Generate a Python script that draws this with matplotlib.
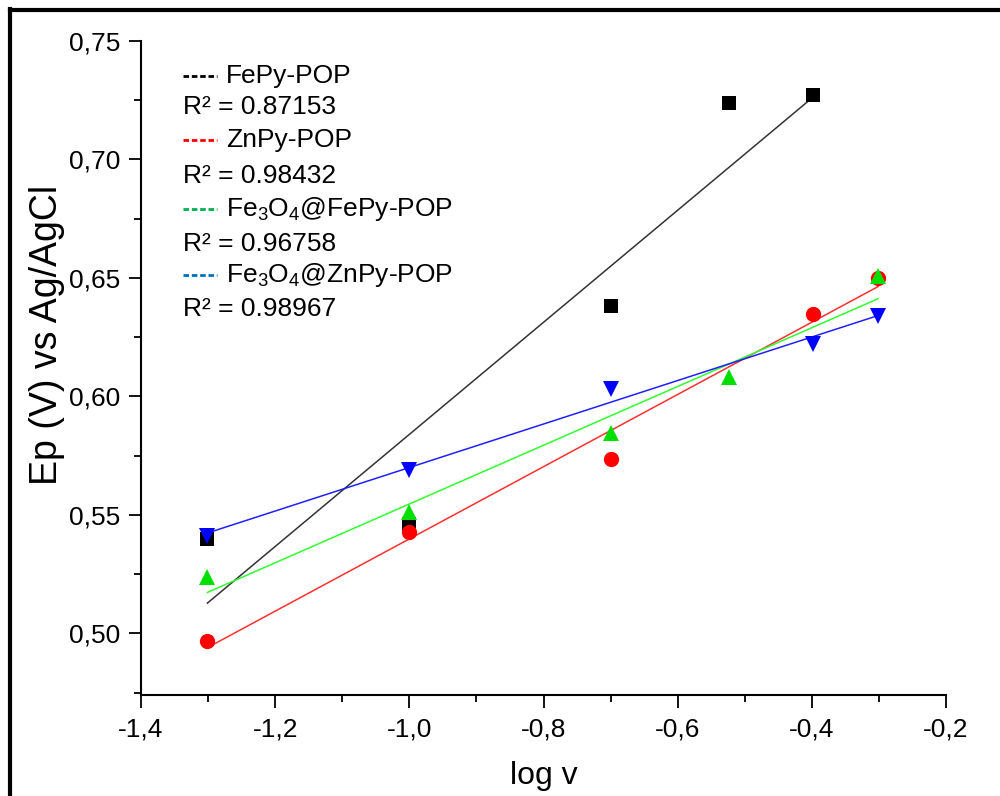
import numpy as np
import matplotlib.pyplot as plt
from matplotlib.ticker import MultipleLocator, FuncFormatter
from matplotlib.lines import Line2D

plt.rcParams['font.family'] = ['Liberation Sans', 'DejaVu Sans']
plt.rcParams['mathtext.fontset'] = 'custom'
plt.rcParams['mathtext.rm'] = 'Liberation Sans'
plt.rcParams['mathtext.it'] = 'Liberation Sans:italic'

# data (log v vs Ep)
x_fe = [-1.301, -1.0, -0.699, -0.523, -0.398]
y_fe = [0.540, 0.546, 0.638, 0.724, 0.727]
x_zn = [-1.301, -1.0, -0.699, -0.398, -0.301]
y_zn = [0.4966, 0.5426, 0.5734, 0.6349, 0.650]
x_fe3o4_fe = [-1.301, -1.0, -0.699, -0.523, -0.301]
y_fe3o4_fe = [0.5236, 0.5514, 0.5847, 0.608, 0.651]
x_fe3o4_zn = [-1.301, -1.0, -0.699, -0.398, -0.301]
y_fe3o4_zn = [0.541, 0.5691, 0.6033, 0.6219, 0.634]

names = ['FePy-POP', 'ZnPy-POP', r'Fe$_3$O$_4$@FePy-POP', r'Fe$_3$O$_4$@ZnPy-POP']
r2 = ['0.87153', '0.98432', '0.96758', '0.98967']

fig = plt.figure(figsize=(10, 7.96), dpi=100)
ax = fig.add_axes([0.141, 0.127, 0.805, 0.8215])

series = [
    (x_fe, y_fe, 's', '#000000', '#333333', 10),
    (x_zn, y_zn, 'o', '#ff0000', '#ff3030', 11),
    (x_fe3o4_fe, y_fe3o4_fe, '^', '#00e000', '#30ff30', 12),
    (x_fe3o4_zn, y_fe3o4_zn, 'v', '#0000ff', '#2020ff', 12),
]
for xs, ys, mk, mc, lc, ms in series:
    xs = np.array(xs); ys = np.array(ys)
    k, b = np.polyfit(xs, ys, 1)
    xl = np.array([xs.min(), xs.max()])
    ax.plot(xl, k * xl + b, color=lc, lw=1.1, zorder=2)
    ax.plot(xs, ys, mk, color=mc, ms=ms, mew=0, zorder=3)

ax.set_xlim(-1.4, -0.2)
ax.set_ylim(0.474, 0.75)
ax.xaxis.set_major_locator(MultipleLocator(0.2))
ax.xaxis.set_minor_locator(MultipleLocator(0.1))
ax.yaxis.set_major_locator(MultipleLocator(0.05))
ax.yaxis.set_minor_locator(MultipleLocator(0.025))
ax.xaxis.set_major_formatter(FuncFormatter(lambda v, p: f'{v:.1f}'.replace('.', ',')))
ax.yaxis.set_major_formatter(FuncFormatter(lambda v, p: f'{v:.2f}'.replace('.', ',')))
ax.tick_params(which='major', length=9, width=1.3, labelsize=19, direction='out')
ax.tick_params(axis='y', which='major', pad=6)
ax.tick_params(axis='x', which='major', pad=7)
ax.tick_params(which='minor', length=5, width=1.3, direction='out')
for s in ['top', 'right']:
    ax.spines[s].set_visible(False)
for s in ['left', 'bottom']:
    ax.spines[s].set_linewidth(1.5)

ax.set_xlabel('log v', fontsize=23, labelpad=14)
ax.set_ylabel('Ep (V) vs Ag/AgCl', fontsize=27)
ax.yaxis.set_label_coords(-0.094, 0.55)

# legend block
leg_colors = ['#000000', '#ff0000', '#00b050', '#0070c0']
ys_leg = [0.9465, 0.899, 0.8486, 0.7936, 0.743, 0.6896, 0.642, 0.590]
for i in range(4):
    yn = ys_leg[2 * i]
    yr = ys_leg[2 * i + 1]
    ax.add_line(Line2D([0.052, 0.095], [yn, yn], transform=ax.transAxes,
                       color=leg_colors[i], lw=2, ls=(0, (2, 1))))
    ax.text(0.106, yn, names[i], transform=ax.transAxes, fontsize=19, va='center')
    ax.text(0.052, yr, 'R² = ' + r2[i], transform=ax.transAxes, fontsize=19, va='center')

# outer frame lines (left and top)
fig.add_artist(Line2D([0.0095, 0.0095], [0, 0.989], transform=fig.transFigure, color='black', lw=3))
fig.add_artist(Line2D([0.0095, 1.0], [0.988, 0.988], transform=fig.transFigure, color='black', lw=3))

fig.savefig('out.png', dpi=100)
